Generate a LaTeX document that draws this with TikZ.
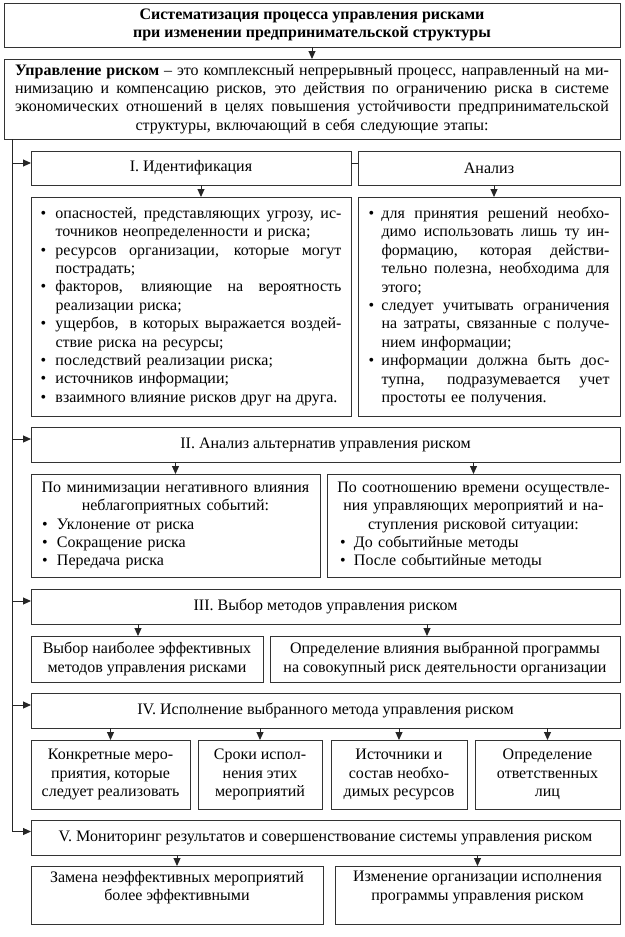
\documentclass[tikz,border=0pt]{standalone}
\usepackage{fontspec}
\setmainfont{Liberation Serif}
\usetikzlibrary{arrows.meta}
\newcommand\myfs{\fontsize{16}{18.4}\selectfont}
\newcommand\bul[1]{\makebox[#1pt][l]{\textbullet}}
\newcommand\jl[2]{\leavevmode\hbox to #1pt{\spaceskip=0.25em plus 1fil minus 0.15em\relax\xspaceskip=\spaceskip #2}}
\newcommand\cl[2]{\makebox[#1pt][c]{#2}}
\newcommand\ind[1]{\hspace*{#1pt}}
\tikzset{
  box/.style={draw=black!80, line width=1pt, inner sep=0pt, outer sep=0pt,
    anchor=north west, font=\myfs, align=center},
  lbox/.style={box, align=left},
  arr/.style={draw=black!85, line width=1pt, -{Triangle[length=8pt,width=7pt]}},
  ln/.style={draw=black!85, line width=1pt},
}
\begin{document}
\begin{tikzpicture}[x=1pt,y=-1pt]
\useasboundingbox (0,0) rectangle (624,937);

% title and definition
\node[box, minimum width=616, minimum height=44, font=\myfs\bfseries] (title) at (4,3)
  {Систематизация процесса управления рисками\\при изменении предпринимательской структуры};
\node[box, minimum width=616, minimum height=80, text width=594] (def) at (4,59)
  {\jl{594}{\textbf{Управление риском} – это комплексный непрерывный процесс, направленный на ми-}\\
   \jl{594}{нимизацию и компенсацию рисков, это действия по ограничению риска в системе}\\
   \jl{594}{экономических отношений в целях повышения устойчивости предпринимательской}\\
   структуры, включающий в себя следующие этапы:};

% stage I
\node[box, minimum width=320, minimum height=34] (ident) at (31,151) {I. Идентификация};
\node[box, minimum width=262, minimum height=34] (anal) at (358,151) {Анализ};
\node[lbox, minimum width=320, minimum height=219, text width=301] (idl) at (31,197)
  {\bul{15}\jl{286}{опасностей, представляющих угрозу, ис-}\\
   \ind{15}точников неопределенности и риска;\\
   \bul{15}\jl{286}{ресурсов организации, которые могут}\\
   \ind{15}пострадать;\\
   \bul{15}\jl{286}{факторов, влияющие на вероятность}\\
   \ind{15}реализации риска;\\
   \bul{15}\jl{286}{ущербов,\hspace{5pt} в которых выражается воздей-}\\
   \ind{15}ствие риска на ресурсы;\\
   \bul{15}последствий реализации риска;\\
   \bul{15}источников информации;\\
   \bul{15}\jl{282}{взаимного влияние рисков друг на друга.}};
\node[lbox, minimum width=262, minimum height=219, text width=241] (anl) at (358,197)
  {\bul{13}\jl{228}{для принятия решений необхо-}\\
   \ind{13}\jl{228}{димо использовать лишь ту ин-}\\
   \ind{13}\jl{228}{формацию, которая действи-}\\
   \ind{13}\jl{228}{тельно полезна, необходима для}\\
   \ind{13}этого;\\
   \bul{13}\jl{228}{следует учитывать ограничения}\\
   \ind{13}\jl{228}{на затраты, связанные с получе-}\\
   \ind{13}нием информации;\\
   \bul{13}\jl{228}{информации должна быть дос-}\\
   \ind{13}\jl{228}{тупна, подразумевается учет}\\
   \ind{13}простоты ее получения.};

% stage II
\node[box, minimum width=589, minimum height=35] (st2) at (31,427) {II. Анализ альтернатив управления риском};
\node[lbox, minimum width=289, minimum height=103, text width=267] (s2a) at (31,474)
  {\cl{267}{По минимизации негативного влияния}\\
   \cl{267}{неблагоприятных событий:}\\
   \bul{15}Уклонение от риска\\
   \bul{15}Сокращение риска\\
   \bul{15}Передача риска};
\node[lbox, minimum width=293, minimum height=103, text width=267] (s2b) at (327,474)
  {\cl{267}{По соотношению времени осуществле-}\\
   \cl{267}{ния управляющих мероприятий и на-}\\
   \cl{267}{ступления рисковой ситуации:}\\
   \bul{14}До событийные методы\\
   \bul{14}После событийные методы};

% stage III
\node[box, minimum width=589, minimum height=35] (st3) at (31,589) {III. Выбор методов управления риском};
\node[box, minimum width=232, minimum height=46] (s3a) at (31,636)
  {Выбор наиболее эффективных\\методов управления рисками};
\node[box, minimum width=350, minimum height=46] (s3b) at (270,636)
  {Определение влияния выбранной программы\\на совокупный риск деятельности организации};

% stage IV
\node[box, minimum width=589, minimum height=35] (st4) at (31,693) {IV. Исполнение выбранного метода управления риском};
\node[box, minimum width=159, minimum height=69] (s4a) at (31,740)
  {Конкретные меро-\\приятия, которые\\следует реализовать};
\node[box, minimum width=124, minimum height=69] (s4b) at (198,740)
  {Сроки испол-\\нения этих\\мероприятий};
\node[box, minimum width=136, minimum height=69] (s4c) at (331,740)
  {Источники и\\состав необхо-\\димых ресурсов};
\node[box, minimum width=145, minimum height=69] (s4d) at (475,740)
  {Определение\\ответственных\\лиц};

% stage V
\node[box, minimum width=589, minimum height=35] (st5) at (31,820)
  {V. Мониторинг результатов и совершенствование системы управления риском};
\node[box, minimum width=292, minimum height=58] (s5a) at (31,866)
  {Замена неэффективных мероприятий\\более эффективными\\\mbox{}};
\node[box, minimum width=285, minimum height=58] (s5b) at (335,866)
  {Изменение организации исполнения\\программы управления риском\\\mbox{}};

% connectors
\coordinate (spx) at (12,0);
\draw[arr] (title) -- (def);
\draw[arr] (def.south -| spx) |- ([yshift=6pt]st5.west);
\draw[arr] ([yshift=5pt]ident.west -| spx) -- ([yshift=5pt]ident.west);
\draw[arr] ([yshift=5.5pt]st2.west -| spx) -- ([yshift=5.5pt]st2.west);
\draw[arr] ([yshift=5.5pt]st3.west -| spx) -- ([yshift=5.5pt]st3.west);
\draw[arr] ([yshift=5.5pt]st4.west -| spx) -- ([yshift=5.5pt]st4.west);
\draw[ln] ([yshift=5pt]ident.east) -- ([yshift=5pt]ident.east -| anal.west);

\draw[arr] ([xshift=10pt]ident.south) -- ([xshift=10pt]ident.south |- idl.north);
\draw[arr] ([xshift=5pt]anal.south) -- ([xshift=5pt]anal.south |- anl.north);
\draw[arr] (s2a.north |- st2.south) -- (s2a.north);
\draw[arr] (s2b.north |- st2.south) -- (s2b.north);
\draw[arr] ([xshift=-9pt]s3a.north |- st3.south) -- ([xshift=-9pt]s3a.north);
\draw[arr] ([xshift=-18pt]s3b.north |- st3.south) -- ([xshift=-18pt]s3b.north);
\draw[arr] (s4a.north |- st4.south) -- (s4a.north);
\draw[arr] (s4b.north |- st4.south) -- (s4b.north);
\draw[arr] (s4c.north |- st4.south) -- (s4c.north);
\draw[arr] (s4d.north |- st4.south) -- (s4d.north);
\draw[arr] (s5a.north |- st5.south) -- (s5a.north);
\draw[arr] (s5b.north |- st5.south) -- (s5b.north);
\end{tikzpicture}
\end{document}
